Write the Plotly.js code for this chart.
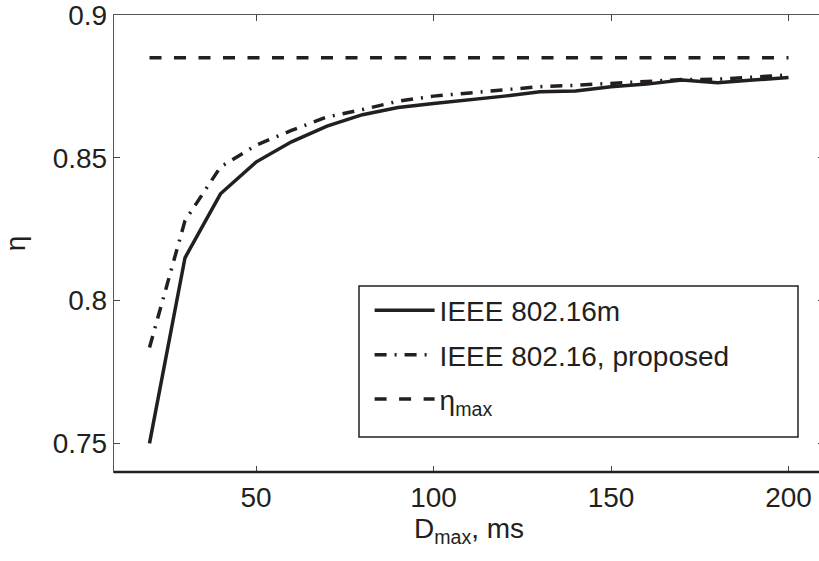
<!DOCTYPE html>
<html>
<head>
<meta charset="utf-8">
<script src="https://cdn.plot.ly/plotly-3.0.1.min.js"></script>
<style>
html, body { margin:0; padding:0; overflow:hidden; background:#fff; }
#chart { width:825px; height:561px; }
</style>
</head>
<body>
<div id="chart"></div>
<script>
// Data
var dmax = [20, 30, 40, 50, 60, 70, 80, 90, 100, 110, 120, 130, 140, 150, 160, 170, 180, 190, 200];
var eta80216m = [0.750, 0.815, 0.8374, 0.8485, 0.8556, 0.8611, 0.8651, 0.8676, 0.8690, 0.8702, 0.8716, 0.8731, 0.8734, 0.8749, 0.8758, 0.8772, 0.8763, 0.8772, 0.8781];
var etaProposed = [0.7836, 0.828, 0.8468, 0.8544, 0.8596, 0.8643, 0.8669, 0.8698, 0.8716, 0.8727, 0.8737, 0.8749, 0.8754, 0.8760, 0.8768, 0.8774, 0.8775, 0.8784, 0.8790];
var etaMaxX = [20, 200];
var etaMaxY = [0.885, 0.885];
var seriesNames = ["IEEE 802.16m", "IEEE 802.16, proposed", "η<sub>max</sub>"];
var xTicks = [50, 100, 150, 200];
var yTicks = [0.75, 0.8, 0.85, 0.9];
var yTickText = ["0.75", "0.8", "0.85", "0.9"];

var ink = "#231f20";
var FONT = "Liberation Sans, Arial, sans-serif";
var FS = 28;

var traces = [
  { x: dmax, y: eta80216m, name: seriesNames[0], mode: "lines", legendgroup: "a",
    line: { color: ink, width: 3.5 } },
  { x: dmax, y: etaProposed, name: seriesNames[1], mode: "lines", legendgroup: "b",
    line: { color: ink, width: 3.5, dash: "12px,8px,2px,8px" } },
  { x: etaMaxX, y: etaMaxY, name: seriesNames[2], mode: "lines", legendgroup: "c",
    line: { color: ink, width: 3.5, dash: "12px,12.5px" } }
];

var layout = {
  width: 825, height: 561,
  margin: { l: 114, r: 1, t: 15, b: 89 },
  paper_bgcolor: "#fff", plot_bgcolor: "#fff",
  font: { family: FONT, size: FS, color: ink },
  showlegend: true,
  legend: {
    x: 0.36, y: 0.408, xanchor: "left", yanchor: "top",
    bgcolor: "rgba(0,0,0,0)", borderwidth: 0,
    font: { family: FONT, size: FS, color: ink },
    traceorder: "grouped", tracegroupgap: 5, itemwidth: 60
  },
  xaxis: {
    range: [10, 210], tickvals: xTicks, ticks: "inside", ticklen: 6, tickwidth: 1, tickcolor: "#444",
    showline: true, linecolor: "#555", linewidth: 1.2, mirror: "ticks",
    showgrid: false, zeroline: false, ticklabeloverflow: "allow",
    tickfont: { family: FONT, size: FS, color: ink },
    title: { text: "D<sub>max</sub>, ms", font: { family: FONT, size: FS, color: ink }, standoff: 4 }
  },
  yaxis: {
    range: [0.74, 0.9], tickvals: yTicks, ticktext: yTickText, ticks: "inside", ticklen: 6, tickwidth: 1, tickcolor: "#444",
    showline: true, linecolor: "#555", linewidth: 1.2, mirror: "ticks",
    showgrid: false, zeroline: false, ticklabeloverflow: "allow",
    tickfont: { family: FONT, size: FS, color: ink },
    title: { text: "η", font: { family: FONT, size: FS, color: ink }, standoff: 22 }
  },
  shapes: [
    { type: "line", xref: "paper", yref: "paper", x0: 0, x1: 1, y0: 0, y1: 0,
      line: { color: ink, width: 2.6 } },
    { type: "rect", xref: "paper", yref: "paper",
      x0: (359 - 114) / 710, x1: (798 - 114) / 710,
      y0: (472 - 437) / 457, y1: (472 - 286) / 457,
      line: { color: ink, width: 1.5 }, fillcolor: "rgba(255,255,255,0)", layer: "above" }
  ]
};

Plotly.newPlot("chart", traces, layout, { displayModeBar: false, staticPlot: true });
</script>
</body>
</html>
